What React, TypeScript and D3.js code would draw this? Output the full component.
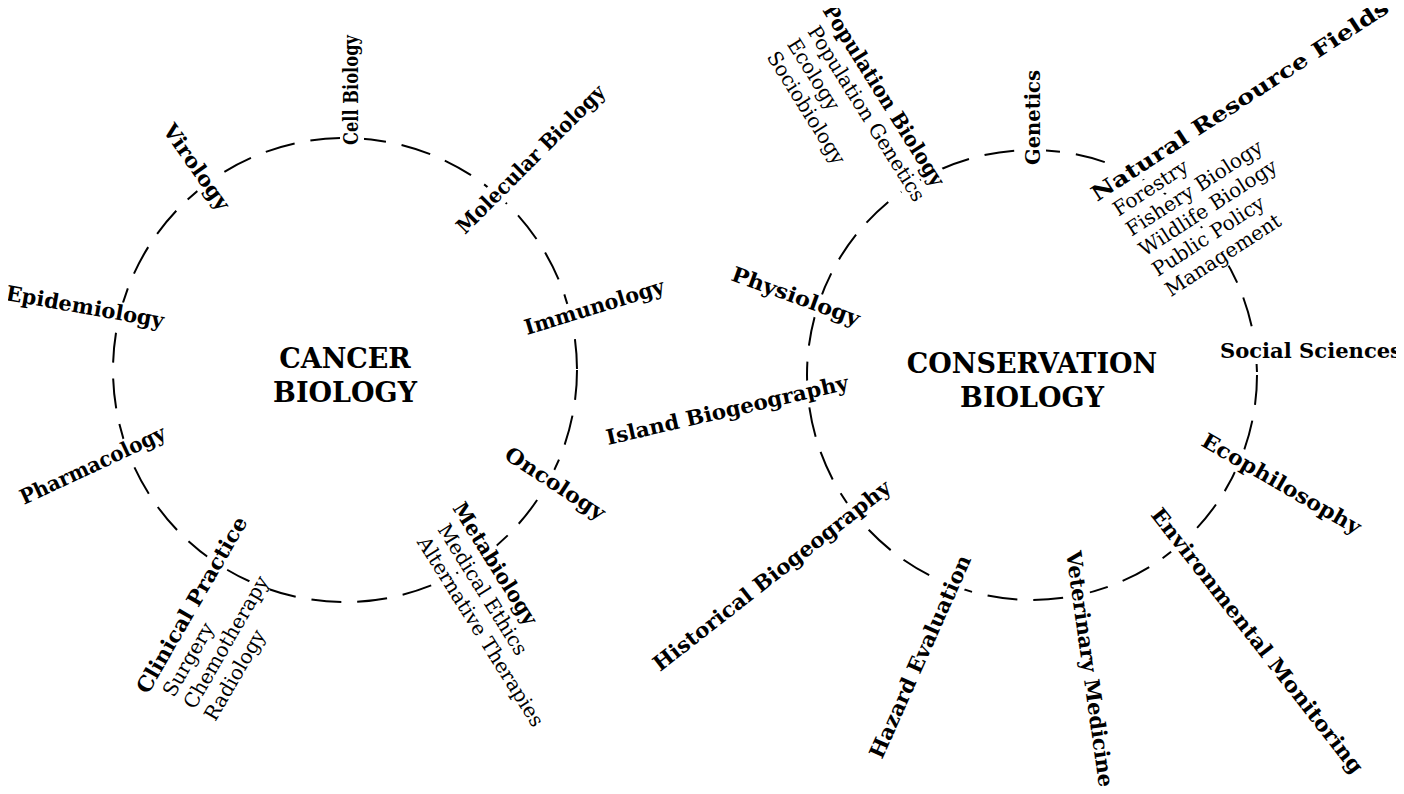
import React from "react";
import * as d3 from "d3";

// discipline names around each circle
const cancerFields = ["Cell Biology", "Molecular Biology", "Virology", "Epidemiology", "Immunology", "Pharmacology", "Oncology", "Clinical Practice", "Metabiology"];
const cancerSub: Record<string, string[]> = {
  "Clinical Practice": ["Surgery", "Chemotherapy", "Radiology"],
  Metabiology: ["Medical Ethics", "Alternative Therapies"],
};
const consFields = ["Population Biology", "Genetics", "Natural Resource Fields", "Physiology", "Social Sciences", "Island Biogeography", "Ecophilosophy", "Historical Biogeography", "Hazard Evaluation", "Veterinary Medicine", "Environmental Monitoring"];
const consSub: Record<string, string[]> = {
  "Population Biology": ["Population Genetics", "Ecology", "Sociobiology"],
  "Natural Resource Fields": ["Forestry", "Fishery Biology", "Wildlife Biology", "Public Policy", "Management"],
};

// layout: [x, y, rotation, length] of the first line's baseline
const layout: Record<string, [number, number, number, number]> = {
  "Cell Biology": [358, 145, -90, 110],
  "Molecular Biology": [465, 235, -45, 200],
  Virology: [162, 130, 55, 100],
  Epidemiology: [5, 300, 10, 160],
  Immunology: [527, 335, -17, 145],
  Pharmacology: [24, 505, -25, 158],
  Oncology: [503, 458, 33, 115],
  "Clinical Practice": [148, 695, -60, 200],
  Metabiology: [452, 508, 58, 140],
  "Population Biology": [822, 10, 58, 210],
  Genetics: [1040, 165, -90, 95],
  "Natural Resource Fields": [1097, 202, -33, 350],
  Physiology: [730, 280, 20, 135],
  "Social Sciences": [1220, 358, 0, 182],
  "Island Biogeography": [608, 445, -13, 248],
  Ecophilosophy: [1200, 445, 30, 180],
  "Historical Biogeography": [660, 672, -38, 295],
  "Hazard Evaluation": [882, 760, -66, 220],
  "Veterinary Medicine": [1066, 552, 82, 238],
  "Environmental Monitoring": [1150, 515, 52, 330],
};

const circles = [
  { cx: 345, cy: 370, r: 232, title: ["CANCER", "BIOLOGY"], fields: cancerFields, sub: cancerSub },
  { cx: 1032, cy: 375, r: 225, title: ["CONSERVATION", "BIOLOGY"], fields: consFields, sub: consSub },
];

const font = "'DejaVu Serif', serif";

export default function App() {
  const line = d3.scaleLinear().domain([0, 1]).range([0, 24]);
  return (
    <svg width={1404} height={794} style={{ display: "block", margin: -8 }}>
      <rect width={1404} height={794} fill="#fff" />
      {circles.map((c, ci) => (
        <g key={ci}>
          <circle cx={c.cx} cy={c.cy} r={c.r} fill="none" stroke="#000" strokeWidth={2} strokeDasharray="30 16" />
          {c.title.map((t, i) => (
            <text key={t} x={c.cx} y={c.cy - 2 + i * 34} textAnchor="middle" fontFamily={font} fontWeight="bold" fontSize={27}>{t}</text>
          ))}
          {c.fields.map((f) => {
            const [x, y, rot, len] = layout[f];
            const subs = c.sub[f] || [];
            return (
              <g key={f} transform={`translate(${x},${y}) rotate(${rot})`}>
                <rect x={-4} y={-18} width={len + 8} height={24} fill="#fff" />
                <text fontFamily={font} fontWeight="bold" fontSize={21} textLength={len} lengthAdjust="spacingAndGlyphs">{f}</text>
                {subs.map((s, i) => (
                  <g key={s}>
                    <rect x={6} y={line(i + 1) - 17} width={s.length * 11.5 + 8} height={22} fill="#fff" />
                    <text x={10} y={line(i + 1)} fontFamily={font} fontSize={20}>{s}</text>
                  </g>
                ))}
              </g>
            );
          })}
        </g>
      ))}
    </svg>
  );
}
